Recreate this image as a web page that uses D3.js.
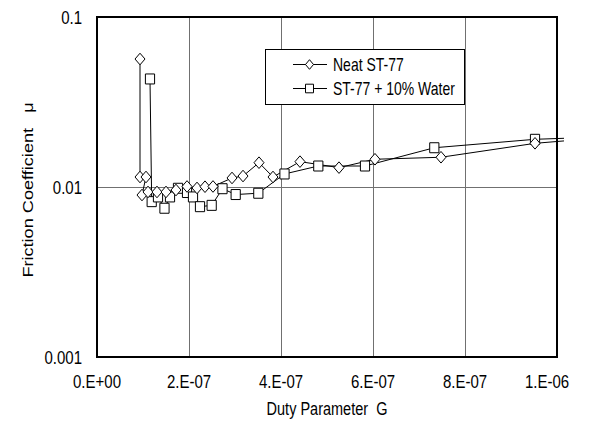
<!DOCTYPE html>
<html>
<head>
<meta charset="utf-8">
<script src="https://cdn.jsdelivr.net/npm/d3@7/dist/d3.min.js"></script>
<style>
  html, body { margin: 0; padding: 0; background: #fff; }
  text { font-family: "Liberation Sans", Arial, sans-serif; fill: #000; }
</style>
</head>
<body>
<svg id="chart" width="593" height="426"></svg>
<script>
// Duty parameter G vs. friction coefficient for two lubricants
const neatG  = [9.35e-8, 9.35e-8, 1.065e-7, 9.78e-8, 1.109e-7, 1.304e-7, 1.50e-7, 1.717e-7,
                1.957e-7, 2.174e-7, 2.348e-7, 2.522e-7, 2.935e-7, 3.174e-7, 3.522e-7, 3.826e-7,
                4.413e-7, 5.261e-7, 6.043e-7, 7.478e-7, 9.522e-7, 1.10e-6];
const neatMu = [0.0566, 0.01145, 0.01145, 0.00897, 0.00935, 0.00935, 0.00935, 0.0096,
                0.01007, 0.00987, 0.01004, 0.01007, 0.0113, 0.0116, 0.0139, 0.01145,
                0.0141, 0.0130, 0.01456, 0.01496, 0.01807, 0.0195];

const waterG  = [1.152e-7, 1.189e-7, 1.326e-7, 1.467e-7, 1.587e-7, 1.761e-7, 1.957e-7, 2.087e-7,
                 2.239e-7, 2.493e-7, 2.728e-7, 3.015e-7, 3.507e-7, 4.076e-7, 4.811e-7, 5.826e-7,
                 7.333e-7, 9.522e-7, 1.10e-6];
const waterMu = [0.0432, 0.0082, 0.00874, 0.0075, 0.00874, 0.00983, 0.00928, 0.00874,
                 0.00766, 0.0078, 0.00977, 0.00903, 0.00919, 0.01193, 0.01329, 0.01329,
                 0.01702, 0.01908, 0.0197];

const xTicks = [0, 2e-7, 4e-7, 6e-7, 8e-7, 1e-6];
const xTickLabels = ["0.E+00", "2.E-07", "4.E-07", "6.E-07", "8.E-07", "1.E-06"];
const yTicks = [0.001, 0.01, 0.1];
const yTickLabels = ["0.001", "0.01", "0.1"];
const seriesNames = ["Neat ST-77", "ST-77 + 10% Water"];

const svg = d3.select("#chart");
const plot = { left: 97, right: 557, top: 17, bottom: 357 };
const FS = 14.5;       // title font size
const TS = 15;         // tick label font size
const SY = 1.25;       // vertical stretch of the lettering

const x = d3.scaleLinear().domain([0, 1e-6]).range([plot.left, plot.right]);
const y = d3.scaleLog().domain([0.001, 0.1]).range([plot.bottom, plot.top]);

// stretched text helper
function label(g, px, py, str, anchor, size, rot) {
  return g.append("text")
    .attr("transform", `translate(${px},${py}) scale(1,${SY})` + (rot ? ` rotate(${rot})` : ""))
    .attr("text-anchor", anchor)
    .attr("font-size", size)
    .attr("xml:space", "preserve")
    .text(str);
}

// gridlines
const grid = svg.append("g").attr("stroke", "#707070").attr("stroke-width", 1);
xTicks.slice(1, -1).forEach(t => {
  grid.append("line")
    .attr("x1", Math.round(x(t)) + 0.5).attr("x2", Math.round(x(t)) + 0.5)
    .attr("y1", plot.top).attr("y2", plot.bottom);
});
yTicks.slice(1, -1).forEach(t => {
  grid.append("line")
    .attr("x1", plot.left).attr("x2", plot.right)
    .attr("y1", Math.round(y(t)) + 0.5).attr("y2", Math.round(y(t)) + 0.5);
});

// plot border
svg.append("rect")
  .attr("x", plot.left).attr("y", plot.top)
  .attr("width", plot.right - plot.left).attr("height", plot.bottom - plot.top)
  .attr("fill", "none").attr("stroke", "#000").attr("stroke-width", 2);

// clip: the series run a little past the right edge of the plot
svg.append("clipPath").attr("id", "clip")
  .append("rect").attr("x", plot.left).attr("y", plot.top - 6)
  .attr("width", 564 - plot.left).attr("height", plot.bottom - plot.top + 12);

// tick labels placed with the scales; the last one is kept inside the chart edge
const labels = svg.append("g");
xTicks.forEach((t, i) => {
  const px = i === xTicks.length - 1 ? x(t) - 10 : x(t);
  label(labels, px, 387.5, xTickLabels[i], "middle", TS);
});
yTicks.forEach((t, i) => label(labels, 82, y(t) + 6.5, yTickLabels[i], "end", TS));

// axis titles
label(labels, 327, 415, "Duty Parameter  G", "middle", FS);
label(labels, 33, 190, "Friction Coefficient   μ", "middle", FS, -90);

// series
const line = d3.line().x(d => x(d[0])).y(d => y(d[1]));
const neat = neatG.map((g, i) => [g, neatMu[i]]);
const water = waterG.map((g, i) => [g, waterMu[i]]);

const series = svg.append("g").attr("clip-path", "url(#clip)");
[neat, water].forEach(data => {
  series.append("path").datum(data)
    .attr("d", line).attr("fill", "none")
    .attr("stroke", "#000").attr("stroke-width", 1);
});

const diamond = (cx, cy, rx, ry) => `M${cx},${cy - ry}L${cx + rx},${cy}L${cx},${cy + ry}L${cx - rx},${cy}Z`;
const square = (cx, cy, rx, ry) => `M${cx - rx},${cy - ry}h${2 * rx}v${2 * ry}h${-2 * rx}Z`;

series.selectAll(".sq").data(water).enter().append("path")
  .attr("class", "sq")
  .attr("d", d => square(x(d[0]), y(d[1]), 4.6, 5))
  .attr("fill", "#fff").attr("stroke", "#000").attr("stroke-width", 1);
series.selectAll(".dm").data(neat).enter().append("path")
  .attr("class", "dm")
  .attr("d", d => diamond(x(d[0]), y(d[1]), 5, 5.8))
  .attr("fill", "#fff").attr("stroke", "#000").attr("stroke-width", 1);

// legend
const lg = svg.append("g");
lg.append("rect").attr("x", 265.5).attr("y", 49.5).attr("width", 199).attr("height", 55)
  .attr("fill", "#fff").attr("stroke", "#000").attr("stroke-width", 1);
const rows = [{ y: 64, mark: diamond, rx: 4, ry: 4.8 }, { y: 88, mark: square, rx: 4, ry: 4.3 }];
rows.forEach((r, i) => {
  lg.append("line").attr("x1", 293).attr("x2", 327).attr("y1", r.y + 0.5).attr("y2", r.y + 0.5)
    .attr("stroke", "#000").attr("stroke-width", 1);
  lg.append("path").attr("d", r.mark(309.5, r.y + 0.5, r.rx, r.ry))
    .attr("fill", "#fff").attr("stroke", "#000").attr("stroke-width", 1);
  label(lg, 333, r.y + 6.8, seriesNames[i], "start", 14);
});
</script>
</body>
</html>
